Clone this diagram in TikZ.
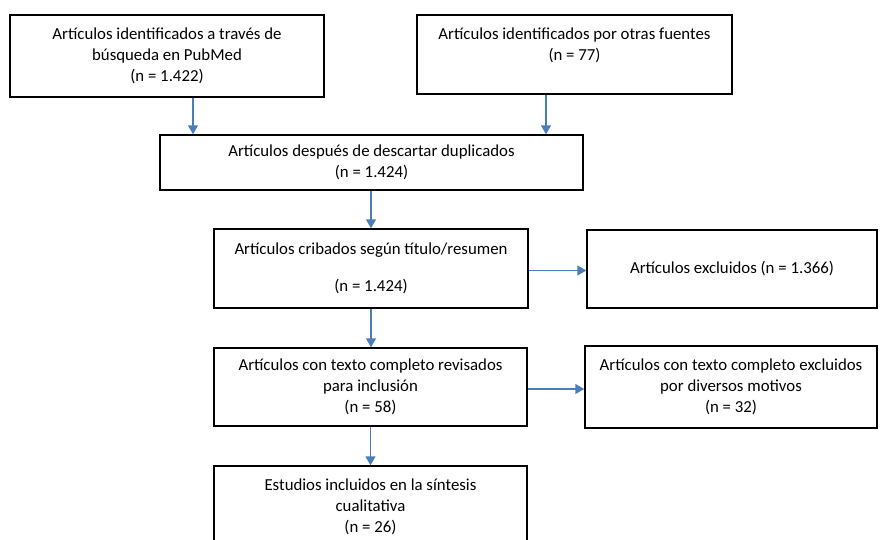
\documentclass[tikz,border=0pt]{standalone}
\usepackage{fontspec}
\setmainfont{Carlito}
\usetikzlibrary{arrows.meta}
\definecolor{arrowblue}{RGB}{74,126,187}
\begin{document}
\begin{tikzpicture}
    [x=1pt,y=-1pt,
     box/.style={shape=rectangle,draw=black,line width=1.5pt,align=center,inner sep=0pt,
       font=\fontsize{16.8}{21.2}\selectfont},
     pre/.style={-{Triangle[width=10pt,length=9pt]},draw=arrowblue,line width=1.5pt}]
    \useasboundingbox (0,0) rectangle (880,539);
    \node [box,minimum width=314pt,minimum height=82pt] (a) at (167,56)
      {Artículos identificados a través de\\búsqueda en PubMed\\(n = 1.422)};
    \node [box,minimum width=315pt,minimum height=79pt] (b) at (574.5,54.5)
      {Artículos identificados por otras fuentes\\(n = 77)\\\mbox{}};
    \node [box,minimum width=423pt,minimum height=55pt] (c) at (371.5,162.5)
      {Artículos después de descartar duplicados\\(n = 1.424)};
    \node [box,minimum width=314pt,minimum height=79pt] (d) at (371,268.5)
      {Artículos cribados según título/resumen\\[16pt](n = 1.424)};
    \node [box,minimum width=290pt,minimum height=78pt] (e) at (732,269)
      {Artículos excluidos (n = 1.366)};
    \node [box,minimum width=313pt,minimum height=78pt] (f) at (370.5,387)
      {Artículos con texto completo revisados\\para inclusión\\(n = 58)};
    \node [box,minimum width=292pt,minimum height=82pt] (g) at (731,387)
      {Artículos con texto completo excluidos\\por diversos motivos\\(n = 32)};
    \node [box,minimum width=313pt,minimum height=82pt] (h) at (370.5,507)
      {Estudios incluidos en la síntesis\\cualitativa\\(n = 26)};
    \draw [pre] ([xshift=26pt]a.south) -- ([xshift=26pt]a.south |- c.north);
    \draw [pre] ([xshift=-28.5pt]b.south) -- ([xshift=-28.5pt]b.south |- c.north);
    \draw [pre] (c.south -| d.north) -- (d.north);
    \draw [pre] ([yshift=-2pt]d.east) -- ([yshift=-2pt]d.east -| e.west);
    \draw [pre] (d.south) -- (d.south |- f.north);
    \draw [pre] ([yshift=-2pt]f.east) -- ([yshift=-2pt]f.east -| g.west);
    \draw [pre] (f.south) -- (f.south |- h.north);
  \end{tikzpicture}
\end{document}
